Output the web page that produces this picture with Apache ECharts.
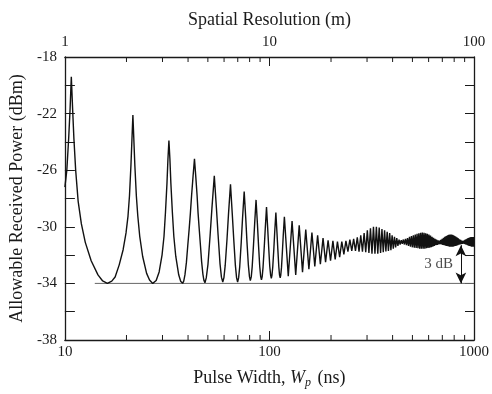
<!DOCTYPE html>
<html>
<head>
<meta charset="utf-8">
<script src="https://cdn.jsdelivr.net/npm/echarts@6/dist/echarts.min.js"></script>
<style>
html,body{margin:0;padding:0;background:#fff;}
#chart{width:492px;height:394px;}
</style>
</head>
<body>
<div id="chart"></div>
<script>
// ---- data ----
// detailed shape of the first lobes (pulse width in ns, power in dBm)
const lobeWp = [10.0,10.22,10.43,10.6,10.75,
  10.91,11.07,11.29,11.61,12.04,12.58,13.44,14.51,15.3,16.13,16.95,
  17.6,18.43,19.26,19.90,20.35,20.69,21.03,21.26,21.5,
  21.74,21.98,22.35,22.72,23.22,24.0,25.09,25.93,26.88,
  27.94,28.89,29.86,30.52,31.03,31.55,31.90,32.25,
  32.61,32.97,33.52,34.08,34.83,36.01,36.81,37.63,
  38.13,38.64,39.28,39.86,40.52,41.05,41.60,42.32,43.0,
  43.62,44.30,44.79,45.33,45.99,46.60,47.27,47.80,48.38,
  49.10,50.04,51.26,52.35,53.75,
  55.04,56.11,57.33,58.25,59.13,
  59.91,60.77,62.03,63.09,64.5,
  65.79,66.89,68.15,69.06,69.88,
  70.67,71.57,72.80,73.85,75.25,
  76.59,77.61,78.90,79.86,80.63,
  81.48,82.34,83.57,84.64,86.0,
  87.33,88.40,89.63,90.57,91.38,
  92.17,93.04,94.28,95.38,96.75,
  98.04,99.12,100.33,101.34,102.13,
  102.87,103.77,105.04,106.09,107.5,
  108.81,109.9,111.11,111.97,112.88,
  113.59,114.53,115.74,116.83];
const lobeDbm = [-27.2,-26.0,-23.8,-21.7,-19.4,
  -21.7,-23.8,-26.0,-28.2,-29.8,-31.1,-32.4,-33.4,-33.83,-34.0,-33.84,
  -33.55,-32.69,-31.62,-30.43,-29.24,-27.81,-25.67,-23.9,-22.1,
  -23.9,-25.67,-27.81,-29.24,-30.67,-32.1,-33.29,-33.76,-34.0,
  -33.8,-33.19,-31.98,-30.67,-28.95,-26.93,-25.21,-23.9,
  -25.21,-26.93,-28.95,-30.67,-32.08,-33.39,-33.85,-34.0,
  -33.82,-33.38,-32.5,-31.36,-30.13,-29.07,-27.84,-26.43,-25.2,
  -26.42,-27.82,-29.05,-30.1,-31.32,-32.46,-33.34,-33.77,-33.95,
  -33.61,-32.67,-30.63,-28.66,-26.4,
  -28.65,-30.6,-32.62,-33.56,-33.9,
  -33.59,-32.73,-30.86,-29.07,-27.0,
  -29.07,-30.86,-32.73,-33.59,-33.9,
  -33.61,-32.81,-31.08,-29.42,-27.5,
  -29.39,-31.03,-32.73,-33.52,-33.8,
  -33.54,-32.83,-31.29,-29.81,-28.1,
  -29.79,-31.26,-32.79,-33.5,-33.75,
  -33.52,-32.87,-31.48,-30.15,-28.6,
  -30.11,-31.43,-32.79,-33.42,-33.65,
  -33.44,-32.86,-31.6,-30.39,-29.0,
  -30.38,-31.58,-32.82,-33.39,-33.6,
  -33.41,-32.87,-31.71,-30.59];
// later oscillation: peaks and troughs
const peakWp = [118.3,129.0,139.8,150.5,161.3,172.0,182.8,193.5,204.3,215.0,
  225.8,236.5,247.3,258.0,268.8,279.5,290.3,301.0,311.8,322.5,
  333.3,344.0,354.8,365.5,376.3,387.0,397.8,408.5,419.3,430.0,
  440.8,451.5,462.3,473.0,483.8,494.5,505.3,516.0,526.8,537.5,
  548.3,559.0,569.8,580.5,591.3,602.0,612.8,623.5,634.3,645.0,
  655.8,666.5,677.3,688.0,698.8,709.5,720.3,731.0,741.8,752.5,
  763.3,774.0,784.8,795.5,806.3,817.0,827.8,838.5,849.3,860.0,
  870.8,881.5,892.3,903.0,913.8,924.5,935.3,946.0,956.8,967.5,
  978.3,989.0,999.8];
const peakDbm = [-29.3,-29.6,-29.9,-30.2,-30.4,-30.6,-30.8,-30.95,-31.0,-31.05,
  -31.05,-31.0,-30.9,-30.85,-30.75,-30.6,-30.45,-30.25,-30.1,-30.0,
  -30.0,-30.05,-30.15,-30.25,-30.35,-30.45,-30.6,-30.7,-30.8,-30.9,
  -30.95,-30.9,-30.85,-30.8,-30.7,-30.65,-30.6,-30.55,-30.5,-30.45,
  -30.42,-30.4,-30.42,-30.45,-30.5,-30.55,-30.62,-30.7,-30.78,-30.85,
  -30.9,-30.95,-30.97,-30.92,-30.85,-30.78,-30.7,-30.65,-30.6,-30.57,
  -30.55,-30.55,-30.57,-30.6,-30.65,-30.7,-30.76,-30.82,-30.88,-30.93,
  -30.97,-31.0,-30.97,-30.92,-30.88,-30.84,-30.8,-30.77,-30.75,-30.73,
  -30.72,-30.72,-30.72];
const troughWp = [123.6,134.4,145.1,155.9,166.6,177.4,188.1,198.9,209.6,220.4,
  231.1,241.9,252.6,263.4,274.1,284.9,295.6,306.4,317.1,327.9,
  338.6,349.4,360.1,370.9,381.6,392.4,403.1,413.9,424.6,435.4,
  446.1,456.9,467.6,478.4,489.1,499.9,510.6,521.4,532.1,542.9,
  553.6,564.4,575.1,585.9,596.6,607.4,618.1,628.9,639.6,650.4,
  661.1,671.9,682.6,693.4,704.1,714.9,725.6,736.4,747.1,757.9,
  768.6,779.4,790.1,800.9,811.6,822.4,833.1,843.9,854.6,865.4,
  876.1,886.9,897.6,908.4,919.1,929.9,940.6,951.4,962.1,972.9,
  983.6,994.4];
const troughDbm = [-33.5,-33.4,-33.2,-33.0,-32.8,-32.65,-32.5,-32.4,-32.3,-32.15,
  -31.95,-31.75,-31.7,-31.7,-31.75,-31.75,-31.8,-31.85,-31.9,-31.9,
  -31.9,-31.85,-31.8,-31.75,-31.7,-31.65,-31.55,-31.45,-31.35,-31.25,
  -31.2,-31.25,-31.3,-31.35,-31.4,-31.45,-31.48,-31.5,-31.52,-31.55,
  -31.55,-31.55,-31.55,-31.52,-31.5,-31.48,-31.45,-31.4,-31.35,-31.3,
  -31.27,-31.25,-31.22,-31.25,-31.28,-31.3,-31.33,-31.36,-31.38,-31.4,
  -31.4,-31.4,-31.4,-31.38,-31.36,-31.33,-31.3,-31.27,-31.24,-31.22,
  -31.2,-31.18,-31.2,-31.24,-31.27,-31.3,-31.33,-31.36,-31.38,-31.4,
  -31.4,-31.4];
// reference level line and 3 dB arrow
const refLineWp = [14, 1000];
const refLineDbm = [-34, -34];
const arrowWp = 863;
const arrowDbm = [-31.3, -34];
const arrowLabel = '3 dB';
const arrowLabelDbm = -32.6;
// axis tick values
const yTicks = [-38, -36, -34, -32, -30, -28, -26, -24, -22, -20, -18];
const minorTickWp = [20,30,40,50,60,70,80,90,200,300,400,500,600,700,800,900];

// ---- build series data ----
const curve = [];
for (let i = 0; i < lobeWp.length; i++) curve.push([lobeWp[i], lobeDbm[i]]);
for (let i = 0; i < peakWp.length; i++) {
  curve.push([peakWp[i], peakDbm[i]]);
  if (i < troughWp.length) curve.push([troughWp[i], troughDbm[i]]);
}
const refLine = refLineWp.map((w, i) => [w, refLineDbm[i]]);

const FONT = "'Liberation Serif','Times New Roman',serif";
const INK = '#1a1a1a';

const chart = echarts.init(document.getElementById('chart'), null, {renderer: 'canvas'});
chart.setOption({
  animation: false,
  backgroundColor: '#fff',
  grid: {left: 61, right: 13, top: 57, bottom: 52, containLabel: false},
  xAxis: [{
    type: 'log', logBase: 10, min: 10, max: 1000, position: 'bottom',
    axisLine: {show: true, lineStyle: {color: INK, width: 1.3}},
    axisTick: {show: true, inside: true, length: 9, lineStyle: {color: INK, width: 1}},
    splitLine: {show: false},
    axisLabel: {fontFamily: FONT, fontSize: 15, color: INK, margin: 5,
      formatter: function (v) { return String(v); }},
    name: 'Pulse Width, {i|W}{sub|p} (ns)',
    nameLocation: 'middle', nameGap: 28,
    nameTextStyle: {fontFamily: FONT, fontSize: 18, color: INK,
      rich: {i: {fontFamily: FONT, fontSize: 18, fontStyle: 'italic', color: INK},
             sub: {fontFamily: FONT, fontSize: 12, fontStyle: 'italic', color: INK, padding: [9, 2, 0, 0]}}}
  }, {
    type: 'log', logBase: 10, min: 1, max: 100, position: 'top',
    axisLine: {show: true, lineStyle: {color: INK, width: 1.3}},
    axisTick: {show: true, inside: true, length: 9, lineStyle: {color: INK, width: 1}},
    splitLine: {show: false},
    axisLabel: {fontFamily: FONT, fontSize: 15, color: INK, margin: 7,
      formatter: function (v) { return String(v); }},
    name: 'Spatial Resolution (m)',
    nameLocation: 'middle', nameGap: 28,
    nameTextStyle: {fontFamily: FONT, fontSize: 18, color: INK}
  }],
  yAxis: [{
    type: 'value', min: -38, max: -18, interval: 2, position: 'left',
    axisLine: {show: true, lineStyle: {color: INK, width: 1.3}},
    axisTick: {show: true, inside: true, length: 10, lineStyle: {color: INK, width: 1}},
    splitLine: {show: false},
    axisLabel: {fontFamily: FONT, fontSize: 15, color: INK, margin: 8,
      formatter: function (v) { return ((Math.round(v) + 18) % 4 === 0) ? String(v) : ''; }},
    name: 'Allowable Received Power (dBm)',
    nameLocation: 'middle', nameGap: 32, nameRotate: 90,
    nameTextStyle: {fontFamily: FONT, fontSize: 18, color: INK}
  }, {
    type: 'value', min: -38, max: -18, interval: 2, position: 'right',
    axisLine: {show: true, lineStyle: {color: INK, width: 1.3}},
    axisTick: {show: true, inside: true, length: 9, lineStyle: {color: INK, width: 1}},
    splitLine: {show: false},
    axisLabel: {show: false}
  }],
  series: [{
    type: 'line', xAxisIndex: 0, yAxisIndex: 0,
    data: refLine, showSymbol: false, symbol: 'none',
    lineStyle: {color: '#666', width: 1}, z: 2
  }, {
    type: 'line', xAxisIndex: 0, yAxisIndex: 0,
    data: curve, showSymbol: false, symbol: 'none', sampling: false,
    lineStyle: {color: '#111', width: 1.4}, z: 3
  }, {
    type: 'custom', xAxisIndex: 0, yAxisIndex: 0,
    data: minorTickWp.map(w => [w, yTicks[0]]),
    encode: {x: 0, y: 1}, clip: false, silent: true, z: 5,
    renderItem: function (params, api) {
      const w = api.value(0);
      const b = api.coord([w, yTicks[0]]);
      const t = api.coord([w, yTicks[yTicks.length - 1]]);
      return {type: 'group', children: [
        {type: 'line', shape: {x1: b[0], y1: b[1], x2: b[0], y2: b[1] - 5}, style: {stroke: INK, lineWidth: 1}},
        {type: 'line', shape: {x1: t[0], y1: t[1], x2: t[0], y2: t[1] + 5}, style: {stroke: INK, lineWidth: 1}}
      ]};
    }
  }, {
    type: 'scatter', xAxisIndex: 0, yAxisIndex: 0,
    data: [[arrowWp, arrowLabelDbm]], symbolSize: 0, silent: true, z: 6,
    label: {show: true, position: 'left', distance: 8, formatter: arrowLabel,
      fontFamily: FONT, fontSize: 15, color: INK},
    markLine: {
      silent: true, symbol: ['arrow', 'arrow'], symbolSize: [8, 11],
      label: {show: false},
      lineStyle: {color: '#111', width: 1, type: 'solid'},
      data: [[{coord: [arrowWp, arrowDbm[0]]}, {coord: [arrowWp, arrowDbm[1]]}]]
    }
  }]
});
</script>
</body>
</html>
